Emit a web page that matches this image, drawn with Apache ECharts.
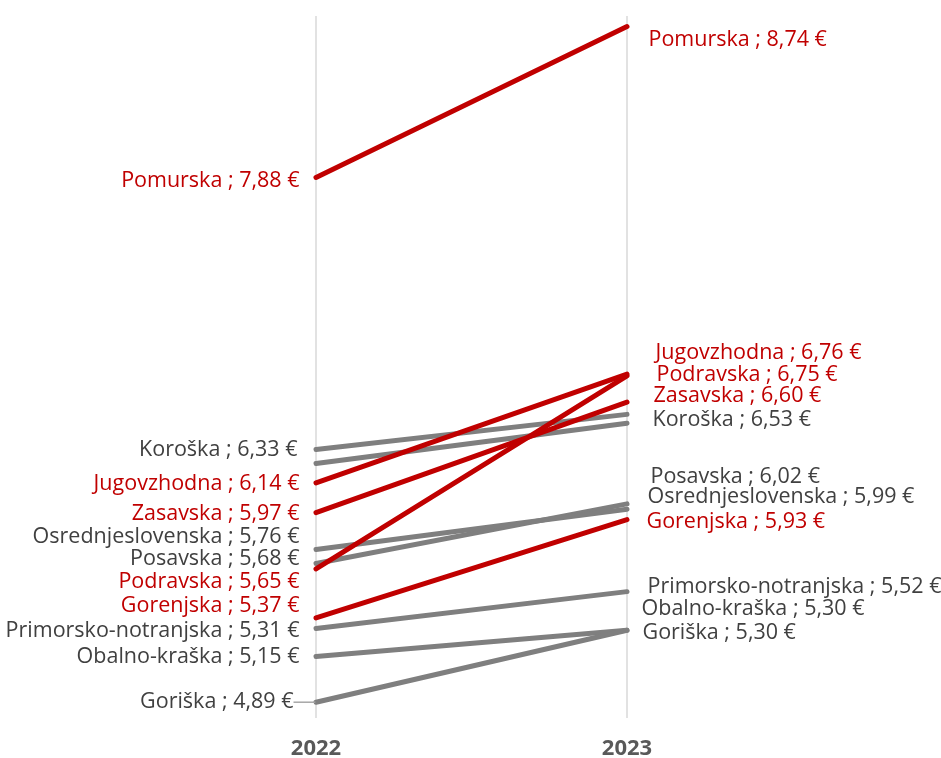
<!DOCTYPE html>
<html>
<head>
<meta charset="utf-8">
<script src="https://cdn.jsdelivr.net/npm/echarts@6/dist/echarts.min.js"></script>
<style>
  html, body { margin: 0; padding: 0; background: #fff; }
  #chart { width: 941px; height: 758px; }
</style>
</head>
<body>
<div id="chart"></div>
<script>
// ===== 数据 =====
const years = ['2022', '2023'];
const regions = ['Pomurska', 'Jugovzhodna', 'Podravska', 'Zasavska', 'Koroška', 'Savinjska',
  'Posavska', 'Osrednjeslovenska', 'Gorenjska', 'Primorsko-notranjska', 'Obalno-kraška', 'Goriška'];
const values2022 = [7.88, 6.14, 5.65, 5.97, 6.33, 6.25, 5.68, 5.76, 5.37, 5.31, 5.15, 4.89];
const values2023 = [8.74, 6.76, 6.75, 6.60, 6.53, 6.48, 6.02, 5.99, 5.93, 5.52, 5.30, 5.30];
const highlighted = ['Pomurska', 'Jugovzhodna', 'Podravska', 'Zasavska', 'Gorenjska'];
const unlabelled = ['Savinjska'];

// 标签位置微调（Excel 手动拖动过的标签）[dx, dy]
const leftOffsets = {
  'Pomurska': [0, 3], 'Jugovzhodna': [0, 1], 'Podravska': [0, 13], 'Zasavska': [0, 1],
  'Koroška': [-2, 0], 'Posavska': [0, -5], 'Osrednjeslovenska': [0, -13], 'Gorenjska': [0, -12],
  'Primorsko-notranjska': [0, 2], 'Obalno-kraška': [0, 0], 'Goriška': [-6, 0]
};
const rightOffsets = {
  'Pomurska': [7, 13], 'Jugovzhodna': [14, -21], 'Podravska': [15, -1], 'Zasavska': [12, -6],
  'Koroška': [11, 5], 'Posavska': [9, -27], 'Osrednjeslovenska': [6, -12], 'Gorenjska': [5, 2],
  'Primorsko-notranjska': [6, -5], 'Obalno-kraška': [0, -21], 'Goriška': [1, 3]
};

const RED = '#C00000';
const GREY = '#7F7F7F';
const fmt = v => v.toFixed(2).replace('.', ',');

const series = regions.map((name, i) => {
  const hot = highlighted.includes(name);
  const showLabel = !unlabelled.includes(name);
  const lineColor = hot ? RED : GREY;
  const textColor = hot ? RED : '#404040';
  const mk = (value, side) => ({
    value: value,
    label: {
      show: showLabel,
      position: side,
      distance: side === 'left' ? 16 : 14,
      formatter: () => `${name} ; ${fmt(value)} €`,
      color: textColor,
      fontSize: 21.5,
      fontFamily: 'Open Sans'
    },
    // Goriška 左侧标签有引导线
    labelLine: (name === 'Goriška' && side === 'left')
      ? { show: true, lineStyle: { color: '#A6A6A6', width: 1.5 } }
      : { show: false }
  });
  return {
    name: name,
    type: 'line',
    symbol: 'circle',
    symbolSize: 1,
    showSymbol: true,
    itemStyle: { color: lineColor },
    z: hot ? 3 : 2,
    lineStyle: { color: lineColor, width: 5, cap: 'round' },
    label: { show: showLabel },
    data: [mk(values2022[i], 'left'), mk(values2023[i], 'right')],
    labelLayout: (p) => {
      const off = (p.dataIndex === 0 ? leftOffsets : rightOffsets)[name] || [0, 0];
      return { dx: off[0], dy: off[1], hideOverlap: false };
    },
    silent: true
  };
});

const chart = echarts.init(document.getElementById('chart'));
chart.setOption({
  animation: false,
  grid: { left: 316, right: 314, top: 16, bottom: 40, outerBoundsMode: 'none' },
  xAxis: {
    type: 'category',
    data: years,
    boundaryGap: false,
    axisLine: { show: false },
    axisTick: { show: false },
    splitLine: { show: true, lineStyle: { color: '#D9D9D9', width: 1.5 } },
    axisLabel: { margin: 20, fontSize: 22, fontWeight: 'bold', color: '#595959', fontFamily: 'Open Sans' }
  },
  yAxis: {
    type: 'value',
    min: 4.8,
    max: 8.8,
    show: false,
    splitLine: { show: false }
  },
  series: series
});
</script>
</body>
</html>
